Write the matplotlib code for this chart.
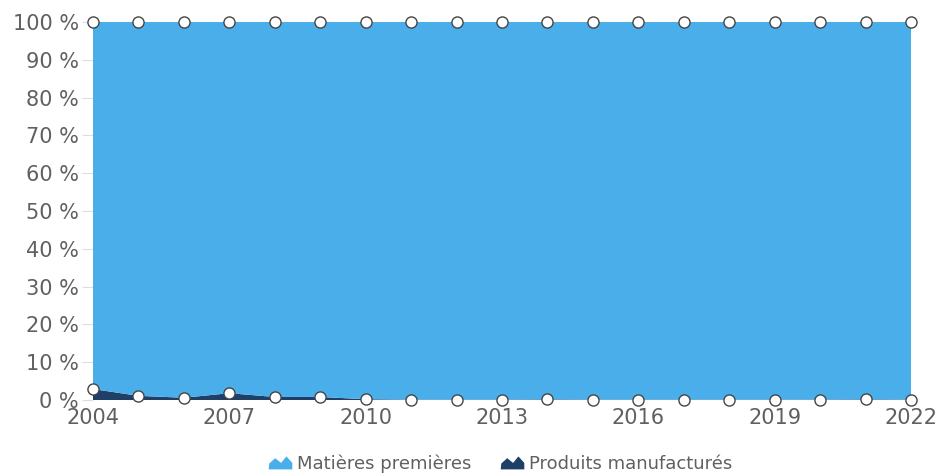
import matplotlib
matplotlib.use('Agg')
import matplotlib.pyplot as plt
from matplotlib.path import Path
from matplotlib.lines import Line2D
import numpy as np

years = list(range(2004, 2023))
produits = [2.9, 1.1, 0.6, 1.8, 0.8, 0.8, 0.2, 0.1, 0.1, 0.1, 0.15, 0.1, 0.1, 0.1, 0.1, 0.1, 0.1, 0.15, 0.1]
matieres = [100 - p for p in produits]

c_mat = '#4aaeeb'
c_prod = '#1f3f66'
grey = '#606060'

fig = plt.figure(figsize=(9.4, 4.74), dpi=100)
ax = fig.add_axes([93 / 940, 1 - 400 / 474, (911 - 93) / 940, (400 - 22) / 474])

ax.set_axisbelow(True)
ax.grid(axis='y', color='#e6e6e6', linewidth=1)
ax.stackplot(years, produits, matieres, colors=[c_prod, c_mat], linewidth=0)
top = np.array(produits) + np.array(matieres)
ax.plot(years, produits, 'o', ms=8, mfc='white', mec='#444444', mew=1, clip_on=False, zorder=5)
ax.plot(years, top, 'o', ms=8, mfc='white', mec='#444444', mew=1, clip_on=False, zorder=5)

ax.set_xlim(2004, 2022)
ax.set_ylim(0, 100)
ax.set_xticks(range(2004, 2023, 3))
ax.set_yticks(range(0, 101, 10))
ax.set_yticklabels([f'{v} %' for v in range(0, 101, 10)])
ax.tick_params(axis='both', colors=grey, labelsize=15, length=0)
ax.tick_params(axis='y', length=8, color='#dddddd', pad=2)
ax.tick_params(axis='x', pad=6)
for s in ax.spines.values():
    s.set_visible(False)

mountain = Path([(-1, -0.5), (-0.95, 0.0), (-0.45, 0.45), (0.05, 0.05), (0.5, 0.6), (1, 0.05), (1, -0.5), (-1, -0.5)],
                [Path.MOVETO] + [Path.LINETO] * 6 + [Path.CLOSEPOLY])
handles = [Line2D([], [], ls='', marker=mountain, ms=17, color=c_mat, mew=0),
           Line2D([], [], ls='', marker=mountain, ms=17, color=c_prod, mew=0)]
fig.legend(handles, ['Matières premières', 'Produits manufacturés'], loc='center',
           bbox_to_anchor=(0.532, 1 - 464 / 474), ncol=2, frameon=False, fontsize=13,
           labelcolor=grey, handletextpad=0.3, columnspacing=1.6, handlelength=1.3)

fig.savefig('out.png', dpi=100)
